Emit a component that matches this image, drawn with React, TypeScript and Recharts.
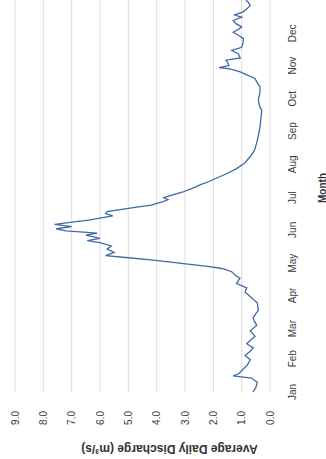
import React from 'react'
import { LineChart, Line, XAxis, YAxis, CartesianGrid } from 'recharts'

const MONTHS = ['Jan', 'Feb', 'Mar', 'Apr', 'May', 'Jun', 'Jul', 'Aug', 'Sep', 'Oct', 'Nov', 'Dec']
const MONTH_START_DAYS = [0, 31, 59, 90, 120, 151, 181, 212, 243, 273, 304, 334]
const VALUE_TICKS = [0, 1, 2, 3, 4, 5, 6, 7, 8, 9]

// day of year and the average daily discharge (m³/s) on that day
const DAYS = [
  0, 4, 9, 13, 15, 17, 20, 25, 30, 34, 38, 41, 45, 48, 52, 57, 62, 66, 69, 73,
  76, 83, 89, 93, 97, 101, 106, 109, 112, 115, 117, 119, 121, 123, 125, 127, 130, 133, 136, 139,
  141, 143, 146, 148, 150, 152, 154, 156, 158, 160, 162, 164, 166, 168, 171, 174, 177, 179, 181, 183,
  186, 190, 193, 196, 199, 203, 208, 213, 219, 225, 232, 240, 247, 255, 262, 267, 272, 278, 284, 288,
  292, 295, 298, 301, 302, 304, 307, 309, 311, 315, 318, 321, 325, 329, 332, 335, 338, 340, 343, 346,
  349, 351, 354, 357, 360, 363, 365,
]
const DISCHARGE = [
  0.6, 0.5, 0.45, 0.65, 1.3, 1.1, 1.0, 0.8, 0.7, 0.88, 0.7, 0.59, 0.82, 0.7, 0.53, 0.7, 0.47, 0.55, 0.6, 0.5,
  0.41, 0.45, 0.7, 0.88, 0.82, 1.18, 1.06, 1.24, 1.35, 1.7, 2.2, 2.9, 3.5, 4.2, 5.0, 5.8, 5.5, 5.75, 5.6, 6.0,
  6.45, 6.0, 6.5, 6.1, 7.2, 7.55, 7.0, 7.6, 7.05, 6.4, 6.0, 5.55, 5.8, 5.75, 5.0, 4.2, 3.8, 3.6, 3.75, 3.5,
  3.1, 2.7, 2.45, 2.15, 1.9, 1.55, 1.18, 0.9, 0.7, 0.55, 0.47, 0.4, 0.35, 0.32, 0.29, 0.38, 0.41, 0.36, 0.35, 0.45,
  0.53, 0.8, 1.05, 1.45, 1.8, 1.45, 1.5, 1.55, 1.05, 1.12, 1.35, 1.0, 0.95, 0.94, 1.1, 1.3, 1.1, 1.0, 1.2, 1.3,
  1.0, 1.25, 0.95, 0.8, 0.7, 0.77, 0.85,
]

const data = DAYS.map((day, i) => ({ day, discharge: DISCHARGE[i] }))

const FONT = '"Liberation Sans", Arial, sans-serif'
const TICK_STYLE = { fontSize: 10, fill: '#3c3c3c', fontFamily: FONT }

const CHART_W = 459
const CHART_H = 326

function YTitle({ viewBox }: any) {
  const cx = viewBox.x + 10
  const cy = viewBox.y + viewBox.height / 2 + 27
  return (
    <text
      x={cx}
      y={cy}
      transform={`rotate(-90, ${cx}, ${cy})`}
      textAnchor="middle"
      dominantBaseline="central"
      fontFamily={FONT}
      fontSize={12}
      fontWeight="bold"
      fill="#333"
    >
      Average Daily Discharge (m³/s)
    </text>
  )
}

function XTitle({ viewBox }: any) {
  const cx = viewBox.x + viewBox.width / 2 + 8
  const cy = viewBox.y + 52
  return (
    <text
      x={cx}
      y={cy}
      textAnchor="middle"
      dominantBaseline="central"
      fontFamily={FONT}
      fontSize={10}
      fontWeight="bold"
      fill="#333"
    >
      Month
    </text>
  )
}

export default function App() {
  return (
    <div
      style={{
        position: 'absolute',
        left: 0,
        top: 0,
        width: CHART_H,
        height: CHART_W,
        overflow: 'hidden',
        background: '#fff',
      }}
    >
      {/* the chart is laid out landscape and turned a quarter turn to stand upright */}
      <div
        style={{
          width: CHART_W,
          height: CHART_H,
          transformOrigin: '0 0',
          transform: `translateY(${CHART_W}px) rotate(-90deg)`,
        }}
      >
        <LineChart
          width={CHART_W}
          height={CHART_H}
          data={data}
          margin={{ top: 15, right: 0, bottom: 0, left: 0 }}
        >
          <CartesianGrid vertical={false} stroke="#dedede" />
          <XAxis
            dataKey="day"
            type="number"
            domain={[0, 365]}
            ticks={MONTH_START_DAYS}
            interval={0}
            tickFormatter={(d: number) => MONTHS[MONTH_START_DAYS.indexOf(d)]}
            axisLine={false}
            tickLine={false}
            tickSize={0}
            tickMargin={19}
            height={56}
            tick={TICK_STYLE}
            label={<XTitle />}
          />
          <YAxis
            type="number"
            domain={[0, 9]}
            ticks={VALUE_TICKS}
            interval={0}
            tickFormatter={(v: number) => v.toFixed(1)}
            axisLine={false}
            tickLine={false}
            tickSize={0}
            tickMargin={19}
            width={67}
            tick={TICK_STYLE}
            label={<YTitle />}
          />
          <Line
            type="linear"
            dataKey="discharge"
            stroke="#3f6aa6"
            strokeWidth={1.3}
            dot={false}
            isAnimationActive={false}
          />
        </LineChart>
      </div>
    </div>
  )
}
